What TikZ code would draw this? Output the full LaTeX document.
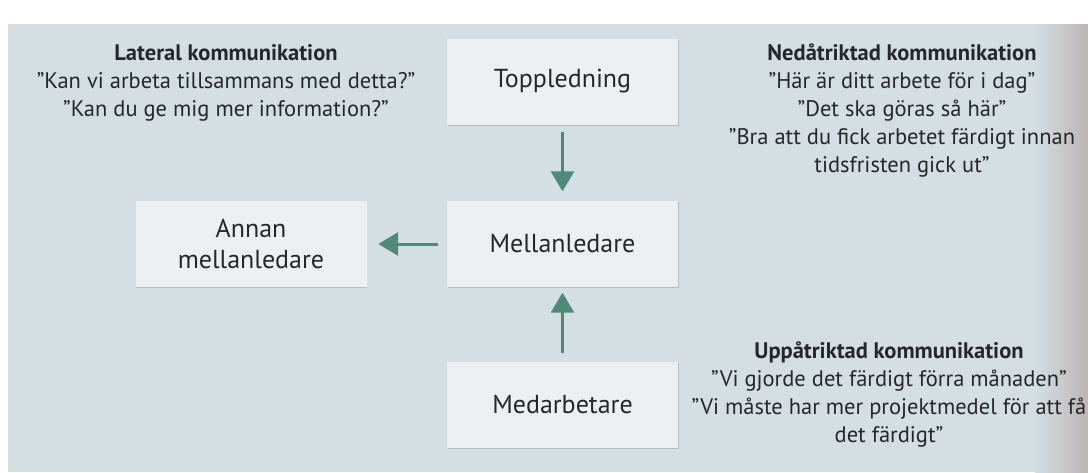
\documentclass[tikz,border=0pt]{standalone}
\usepackage{fontspec}
\setmainfont{PT Sans}
\usetikzlibrary{arrows.meta,shadows}
\definecolor{pagebg}{HTML}{D3DFE5}
\definecolor{boxfill}{HTML}{EDF0F3}
\definecolor{inkgrey}{HTML}{26272A}
\definecolor{arrowgreen}{HTML}{4E8A77}
\definecolor{pageedge}{HTML}{BDB5B3}
\newcommand{\headline}[1]{{\bfseries #1}}

\begin{document}
\begin{tikzpicture}[x=1pt,y=-1pt,
  level/.style={fill=boxfill, minimum width=231pt, minimum height=86pt,
    inner sep=0pt, text=inkgrey, align=center,
    font=\fontsize{26}{31}\selectfont,
    drop shadow={shadow xshift=0.8pt, shadow yshift=-1.2pt, fill=black!40, opacity=.5}},
  flow/.style={draw=arrowgreen, line width=3pt, -{Triangle[width=23pt,length=20pt]}},
  quote/.style={text=inkgrey, align=center, inner sep=0pt,
    font=\fontsize{22.5}{28}\selectfont}
  ]
  \useasboundingbox (0,0) rectangle (1088,472);
  \clip (0,0) rectangle (1088,472);
  % page
  \fill[white] (0,0) rectangle (1088,472);
  \fill[pagebg] (8,24) rectangle (1088,472);
  \shade[left color=pagebg, right color=pageedge] (1035,24) rectangle (1088,472);

  % levels
  \node[level] (top) at (562.5,81.5) {Toppledning};
  \node[level] (mid) at (562.5,244) {Mellanledare};
  \node[level] (peer) at (251,244) {Annan\\mellanledare};
  \node[level] (staff) at (562.5,405) {Medarbetare};

  \draw[flow, shorten <=7.5pt, shorten >=9.5pt] (top) -- (mid);
  \draw[flow, shorten <=9pt, shorten >=11.5pt] (mid) -- (peer);
  \draw[flow, shorten <=9pt, shorten >=5.5pt] (staff) -- (mid);

  % examples
  \node[quote] (lateral) at (226,83) {\headline{Lateral kommunikation}\\
    ”Kan vi arbeta tillsammans med detta?”\\
    ”Kan du ge mig mer information?”};
  \node[quote] (nedat) at (902,111) {\headline{Nedåtriktad kommunikation}\\
    ”Här är ditt arbete för i dag”\\
    ”Det ska göras så här”\\
    ”Bra att du fick arbetet färdigt innan\\
    tidsfristen gick ut”};
  \node[quote] (uppat) at (889,395) {\headline{Uppåtriktad kommunikation}\\
    ”Vi gjorde det färdigt förra månaden”\\
    ”Vi måste har mer projektmedel för att få\\
    det färdigt”};
\end{tikzpicture}
\end{document}
